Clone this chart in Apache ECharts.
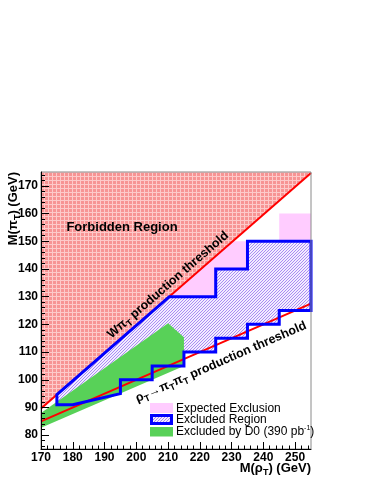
<!DOCTYPE html>
<html><head><meta charset="utf-8">
<script src="https://cdn.jsdelivr.net/npm/echarts@6/dist/echarts.min.js"></script>
<style>html,body{margin:0;padding:0;background:#fff}#c{width:374px;height:484px}</style>
</head><body><div id="c"></div>
<script>
// ---- data ----
const xRange = [170, 255];
const yRange = [75, 175];
const xMajorTicks = [170, 180, 190, 200, 210, 220, 230, 240, 250];
const yMajorTicks = [80, 90, 100, 110, 120, 130, 140, 150, 160, 170];
const xMinorStep = 2;
const yMinorStep = 2;

// production thresholds (endpoints)
const wThreshold = [[170, 89.6], [255, 174.6]];
const pipiThreshold = [[170, 85], [255, 127.5]];

// regions (polygon vertices in M(rhoT), M(piT))
const forbiddenRegion = [[170, 89.6], [255, 174.6], [255, 175], [170, 175]];
const expectedExclusion = [[175, 94.6], [230.4, 150], [245, 150], [245, 160], [255, 160], [255, 125],
  [245, 125], [245, 120], [235, 120], [235, 115], [225, 115], [225, 110], [215, 110], [215, 105],
  [205, 105], [205, 100], [195, 100], [195, 95], [180, 91], [175, 91]];
const excludedRegion = [[175, 94.6], [210.4, 130], [225, 130], [225, 140], [235, 140], [235, 150],
  [255, 150], [255, 125], [245, 125], [245, 120], [235, 120], [235, 115], [225, 115], [225, 110],
  [215, 110], [215, 105], [205, 105], [205, 100], [195, 100], [195, 95], [180, 91], [175, 91]];
const d0Excluded = [[170, 82.7], [215, 105], [215, 115.3], [210, 120.4], [170, 88]];

const legendLabels = ['Expected Exclusion', 'Excluded Region', 'Excluded by D0 (390 pb', '-1', ')'];

// ---- helpers ----
const FONT = '"Liberation Sans", Arial, Helvetica, sans-serif';
function makeTile(w, h, bg, fg, pix) {
  const c = document.createElement('canvas');
  c.width = w; c.height = h;
  const g = c.getContext('2d');
  g.fillStyle = bg; g.fillRect(0, 0, w, h);
  g.fillStyle = fg;
  pix.forEach(p => g.fillRect(p[0], p[1], 1, 1));
  return c;
}
const gridTile = (function () {
  const pix = [];
  for (let i = 0; i < 4; i++) { pix.push([i, 0]); pix.push([0, i]); }
  return makeTile(4, 4, '#f79494', '#fdcaca', pix);
})();
const hatchTile = makeTile(3, 3, '#f2ecff', '#aa8cf3', [[0, 2], [1, 1], [2, 0]]);
const forbiddenFill = { image: gridTile, repeat: 'repeat' };
const hatchFill = { image: hatchTile, repeat: 'repeat' };

function minorList(lo, hi, step, majors) {
  const out = [];
  for (let v = lo; v <= hi + 1e-9; v += step) if (majors.indexOf(v) < 0) out.push(v);
  return out;
}
const xMinorTicks = minorList(xRange[0], xRange[1], xMinorStep, xMajorTicks);
const yMinorTicks = minorList(yRange[0] + 1, yRange[1], yMinorStep, yMajorTicks);

function polySeries(name, pts, style, z) {
  return {
    type: 'custom', name: name, z: z, silent: true, coordinateSystem: 'cartesian2d',
    data: [[xRange[0], yRange[0]]],
    renderItem: function (params, api) {
      return { type: 'polygon', shape: { points: pts.map(p => api.coord(p)) }, style: style };
    }
  };
}
function lineSeries(pts, z) {
  return { type: 'line', data: pts, showSymbol: false, silent: true, z: z,
    lineStyle: { color: '#ff0000', width: 2 } };
}

const chart = echarts.init(document.getElementById('c'), null, { renderer: 'canvas' });

const labelStyle = { fontFamily: FONT, fontWeight: 'bold', fontSize: 12, color: '#000' };
const richThreshold = {
  a: { font: 'bold 12.5px ' + FONT, fill: '#000', lineHeight: 13 },
  s: { font: 'bold 9px ' + FONT, fill: '#000', lineHeight: 9, padding: [8, 0, 0, 0] }
};
const richTitle = {
  a: { font: 'bold 13px ' + FONT, fill: '#000', lineHeight: 14 },
  s: { font: 'bold 9px ' + FONT, fill: '#000', lineHeight: 9, padding: [10, 0, 0, 0] }
};
const option = {
  animation: false,
  backgroundColor: '#fff',
  grid: { left: 41, right: 63, top: 172, bottom: 35, show: true, z: 10,
    backgroundColor: 'transparent', borderColor: '#8a8a8a', borderWidth: 1 },
  xAxis: [{
    type: 'value', min: xRange[0], max: xRange[1], position: 'bottom', z: 11,
    splitLine: { show: false },
    axisLine: { lineStyle: { color: '#000', width: 1 } },
    axisTick: { inside: true, length: 7, customValues: xMajorTicks, lineStyle: { color: '#000' } },
    axisLabel: Object.assign({ margin: 3, customValues: xMajorTicks }, labelStyle)
  }, {
    type: 'value', min: xRange[0], max: xRange[1], position: 'bottom', z: 11,
    splitLine: { show: false }, axisLine: { show: false },
    axisTick: { inside: true, length: 3.5, customValues: xMinorTicks, lineStyle: { color: '#000' } },
    axisLabel: { show: false }
  }],
  yAxis: [{
    type: 'value', min: yRange[0], max: yRange[1], position: 'left', z: 11,
    splitLine: { show: false },
    axisLine: { lineStyle: { color: '#000', width: 1 } },
    axisTick: { inside: true, length: 8, customValues: yMajorTicks, lineStyle: { color: '#000' } },
    axisLabel: Object.assign({ margin: 3, customValues: yMajorTicks }, labelStyle)
  }, {
    type: 'value', min: yRange[0], max: yRange[1], position: 'left', z: 11,
    splitLine: { show: false }, axisLine: { show: false },
    axisTick: { inside: true, length: 4, customValues: yMinorTicks, lineStyle: { color: '#000' } },
    axisLabel: { show: false }
  }],
  series: [
    polySeries('Forbidden Region', forbiddenRegion, { fill: forbiddenFill }, 1),
    polySeries('Expected Exclusion', expectedExclusion, { fill: '#ffccff' }, 2),
    polySeries('Excluded Region', excludedRegion, { fill: hatchFill }, 3),
    polySeries('Excluded by D0', d0Excluded, { fill: '#58d158' }, 4),
    lineSeries(wThreshold, 5),
    lineSeries(pipiThreshold, 5),
    polySeries('Excluded Region outline', excludedRegion,
      { fill: 'none', stroke: '#0000ff', lineWidth: 3, lineJoin: 'miter' }, 6)
  ],
  graphic: [
    { type: 'text', x: 122, y: 227, z: 20, style: { text: 'Forbidden Region', font: 'bold 13px ' + FONT,
      fill: '#000', align: 'center', verticalAlign: 'middle' } },
    { type: 'text', x: 168, y: 285, z: 20, rotation: 41 * Math.PI / 180, style: {
      text: '{a|Wπ}{s|T}{a| production threshold}', align: 'center', verticalAlign: 'middle',
      rich: richThreshold } },
    { type: 'text', x: 221, y: 362, z: 20, rotation: 23.6 * Math.PI / 180, style: {
      text: '{a|ρ}{s|T}{a|→π}{s|T}{a|π}{s|T}{a| production threshold}', align: 'center', verticalAlign: 'middle',
      rich: richThreshold } },
    // axis titles
    { type: 'text', x: 311, y: 468, z: 20, style: {
      text: '{a|M(ρ}{s|T}{a|) (GeV)}', align: 'right', verticalAlign: 'middle', rich: richTitle } },
    { type: 'text', x: 13, y: 172, z: 20, rotation: Math.PI / 2, style: {
      text: '{a|M(π}{s|T}{a|) (GeV)}', align: 'right', verticalAlign: 'middle', rich: richTitle } },
    // legend
    { type: 'rect', z: 20, shape: { x: 150, y: 403, width: 23, height: 10 }, style: { fill: '#ffccff' } },
    { type: 'rect', z: 20, shape: { x: 151.5, y: 415.5, width: 20, height: 8 },
      style: { fill: hatchFill, stroke: '#0000ff', lineWidth: 3 } },
    { type: 'rect', z: 20, shape: { x: 150, y: 427, width: 23, height: 9.5 }, style: { fill: '#58d158' } },
    { type: 'text', x: 176, y: 408.5, z: 20, style: { text: legendLabels[0], font: '12px ' + FONT,
      fill: '#000', verticalAlign: 'middle' } },
    { type: 'text', x: 176, y: 419.5, z: 20, style: { text: legendLabels[1], font: '12px ' + FONT,
      fill: '#000', verticalAlign: 'middle' } },
    { type: 'text', x: 176, y: 432, z: 20, style: {
      text: '{a|' + legendLabels[2] + '}{p|' + legendLabels[3] + '}{a|' + legendLabels[4] + '}',
      verticalAlign: 'middle',
      rich: { a: { font: '12px ' + FONT, fill: '#000', lineHeight: 13 },
              p: { font: '7px ' + FONT, fill: '#000', lineHeight: 7, padding: [0, 0, 7, 0] } } } }
  ]
};
chart.setOption(option);
</script>
</body></html>
